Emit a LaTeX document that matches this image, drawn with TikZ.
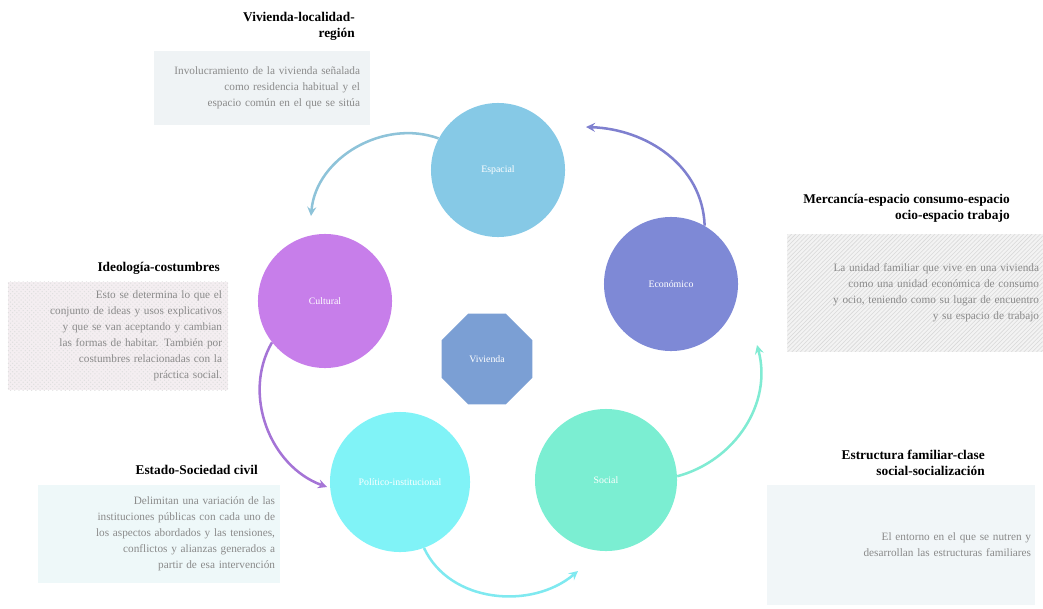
\documentclass[tikz,border=0pt]{standalone}
\usepackage{fontspec}
\setmainfont{Liberation Serif}
\usepackage{xcolor}
\usepackage{tikz}
\usetikzlibrary{arrows}
\usetikzlibrary{shapes.geometric}
\usetikzlibrary{patterns}
\definecolor{espc}{HTML}{86C9E6}
\definecolor{culc}{HTML}{C77EEA}
\definecolor{ecoc}{HTML}{7E89D6}
\definecolor{polc}{HTML}{80F3F7}
\definecolor{socc}{HTML}{7BEED2}
\definecolor{vivc}{HTML}{7B9FD4}
\definecolor{bodyc}{HTML}{8A8A8A}
\definecolor{bxespc}{HTML}{EFF3F5}
\definecolor{bxculc}{HTML}{F4EEF1}
\definecolor{bxecoc}{HTML}{F3F3F3}
\definecolor{bxpolc}{HTML}{EEF8F9}
\definecolor{bxsocc}{HTML}{F1F6F8}
\definecolor{arespc}{HTML}{8EC3D9}
\definecolor{arecoc}{HTML}{7F80CF}
\definecolor{arculc}{HTML}{A574D6}
\definecolor{arpolc}{HTML}{7FE9F0}
\definecolor{arsocc}{HTML}{80EBD3}

\begin{document}
\begin{tikzpicture}[x=0.025cm,y=0.025cm,
  dimension/.style={circle,minimum size=3.35cm,text=white,font=\fontsize{7}{8}\selectfont},
  infobox/.style={inner sep=0pt,text=bodyc,align=right,font=\fontsize{8}{11.4}\selectfont},
  heading/.style={anchor=east,align=right,inner sep=0pt,font=\bfseries\fontsize{9.5}{11.4}\selectfont}]
  \useasboundingbox (0,0) rectangle (1043,608);

  % dimensiones
  \node[dimension,fill=espc] (esp) at (498,438) {Espacial};
  \node[dimension,fill=culc] (cul) at (325,307) {Cultural};
  \node[dimension,fill=ecoc] (eco) at (671,324) {Económico};
  \node[dimension,fill=polc,minimum size=3.5cm] (pol) at (400,126) {Político-institucional};
  \node[dimension,fill=socc,minimum size=3.55cm] (soc) at (606,128) {Social};
  \node[regular polygon,regular polygon sides=8,minimum size=2.45cm,fill=vivc,text=white,
        font=\fontsize{7}{8}\selectfont] (viv) at (487,249) {Vivienda};

  % cuadros de texto
  \node[infobox,fill=bxespc,minimum width=5.375cm,minimum height=1.825cm,text width=4.9cm] (bxesp) at (262,520)
    {Involucramiento de la vivienda señalada\\ como residencia habitual y el\\ espacio común en el que se sitúa};
  \node[infobox,fill=bxculc,postaction={pattern=crosshatch dots,pattern color=gray!25},
        minimum width=5.5cm,minimum height=2.7cm,text width=5.2cm] (bxcul) at (118,272)
    {Esto se determina lo que el\\ conjunto de ideas y usos explicativos\\ y que se van aceptando y cambian\\ las formas de habitar. También por\\ costumbres relacionadas con la\\ práctica social.};
  \node[infobox,fill=bxecoc,postaction={pattern=north east lines,pattern color=gray!30},
        minimum width=6.375cm,minimum height=2.925cm,text width=6.2cm] (bxeco) at (915,315)
    {La unidad familiar que vive en una vivienda\\ como una unidad económica de consumo\\ y ocio, teniendo como su lugar de encuentro\\ y su espacio de trabajo};
  \node[infobox,fill=bxpolc,minimum width=6.05cm,minimum height=2.45cm,text width=5.8cm] (bxpol) at (159,74)
    {Delimitan una variación de las\\ instituciones públicas con cada uno de\\ los aspectos abordados y las tensiones,\\ conflictos y alianzas generados a\\ partir de esa intervención};
  \node[infobox,fill=bxsocc,minimum width=6.675cm,minimum height=3cm,text width=6.5cm] (bxsoc) at (901,63)
    {El entorno en el que se nutren y\\ desarrollan las estructuras familiares};

  % titulos
  \node[heading] (tesp) at (355,582) {Vivienda-localidad-\\región};
  \node[heading] (tcul) at (220,340) {Ideología-costumbres};
  \node[heading] (teco) at (1010,400) {Mercancía-espacio consumo-espacio\\ ocio-espacio trabajo};
  \node[heading] (tpol) at (258,138) {Estado-Sociedad civil};
  \node[heading] (tsoc) at (985,145) {Estructura familiar-clase\\ social-socialización};

  % flechas
  \coordinate (a1) at (311,392);
  \coordinate (a2) at (586,481);
  \coordinate (a3) at (327,121);
  \coordinate (a4) at (578,37);
  \coordinate (a5) at (757,263);
  \path[-stealth,line width=1.8pt]
    (esp.152) edge [draw=arespc,out=160,in=85] (a1)
    (eco.60) edge [draw=arecoc,out=92,in=-2] (a2)
    (cul.218) edge [draw=arculc,out=-120,in=160] (a3)
    (pol.-70) edge [draw=arpolc,out=-65,in=-140] (a4)
    (soc.3) edge [draw=arsocc,out=15,in=-75] (a5);
\end{tikzpicture}
\end{document}
